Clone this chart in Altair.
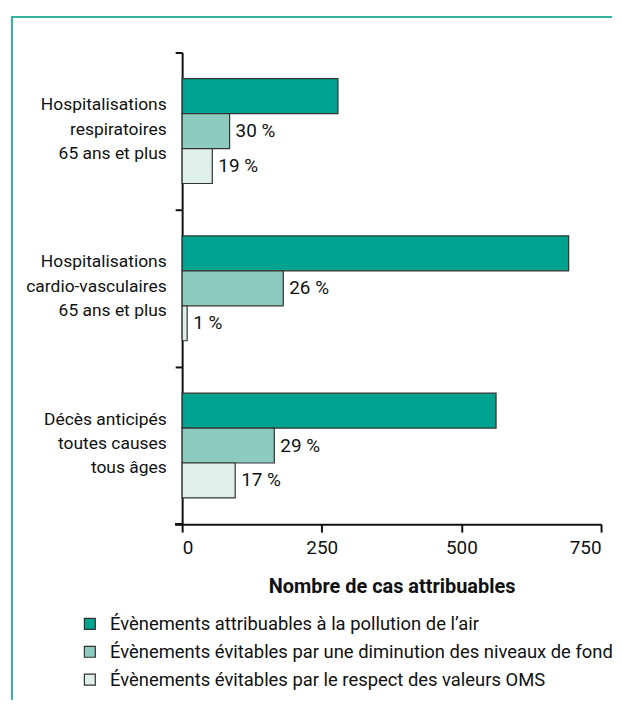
import altair as alt
import pandas as pd

categories = [
    "Hospitalisations|respiratoires|65 ans et plus",
    "Hospitalisations|cardio-vasculaires|65 ans et plus",
    "Décès anticipés|toutes causes|tous âges",
]
series = [
    "Évènements attribuables à la pollution de l’air",
    "Évènements évitables par une diminution des niveaux de fond",
    "Évènements évitables par le respect des valeurs OMS",
]
attribuables = [279, 692, 562]
fond = [85, 181, 165]
oms = [54, 9, 95]
pct_fond = ["30 %", "26 %", "29 %"]
pct_oms = ["19 %", "1 %", "17 %"]
colors = ["#00a38f", "#8ecbbf", "#dff0ea"]
x_ticks = [0, 250, 500, 750]

rows = []
for i, c in enumerate(categories):
    rows.append({"cat": c, "serie": series[0], "value": attribuables[i], "label": ""})
    rows.append({"cat": c, "serie": series[1], "value": fond[i], "label": pct_fond[i]})
    rows.append({"cat": c, "serie": series[2], "value": oms[i], "label": pct_oms[i]})
df = pd.DataFrame(rows)

FONT = "Roboto"
W, H = 421, 474

y_enc = alt.Y("cat:N", sort=categories,
              scale=alt.Scale(paddingInner=0, paddingOuter=0),
              axis=alt.Axis(title=None, bandPosition=0, labelExpr="split(datum.label, '|')",
                            labelFont=FONT, labelFontSize=17.5, labelLineHeight=24.5,
                            labelColor="#111", labelPadding=9, tickSize=7, tickWidth=2,
                            tickColor="#111", domainColor="#111", domainWidth=2,
                            labelBaseline="middle", labelOffset=-26))
yoff = alt.YOffset("serie:N", sort=series,
                   scale=alt.Scale(paddingOuter=0.75, paddingInner=0))
x_enc = alt.X("value:Q",
              scale=alt.Scale(domain=[0, 750], nice=False),
              axis=alt.Axis(values=x_ticks, title="Nombre de cas attribuables", grid=False,
                            labelFont=FONT, labelFontSize=19, labelColor="#111",
                            labelPadding=6, tickSize=8, tickWidth=2, tickColor="#111",
                            domainColor="#111", domainWidth=2,
                            titleFont=FONT, titleFontSize=20, titleFontWeight="bold",
                            titleColor="#111", titlePadding=20))

bars = alt.Chart(df).mark_bar(stroke="#333", strokeWidth=1.2).encode(
    x=x_enc,
    y=y_enc,
    yOffset=yoff,
    color=alt.Color("serie:N", sort=series,
                    scale=alt.Scale(domain=series, range=colors),
                    legend=alt.Legend(title=None, orient="none", legendX=-102, legendY=565,
                                      symbolType="square", symbolSize=121,
                                      symbolStrokeColor="#333", symbolStrokeWidth=1.2,
                                      labelFont=FONT, labelFontSize=18.5, labelColor="#111",
                                      labelLimit=600, rowPadding=9, labelOffset=11)),
)

texts = alt.Chart(df).mark_text(align="left", baseline="middle", dx=6, font=FONT,
                                fontSize=19, color="#111").encode(
    x="value:Q",
    y=alt.Y("cat:N", sort=categories),
    yOffset=alt.YOffset("serie:N", sort=series),
    text="label:N",
)

frame_top = alt.Chart(df).mark_rule(color="#35b5a0", strokeWidth=1.5).encode(
    x=alt.value(-171), x2=alt.value(432), y=alt.value(-36))
frame_left = alt.Chart(df).mark_rule(color="#35b5a0", strokeWidth=1.5).encode(
    x=alt.value(-171), y=alt.value(-36), y2=alt.value(650))
end_tick = alt.Chart(df).mark_rule(color="#111", strokeWidth=2).encode(
    x=alt.value(-7), x2=alt.value(0), y=alt.value(H))

chart = alt.layer(frame_top, frame_left, bars, texts, end_tick).properties(
    width=W, height=H,
    padding={"left": 3, "top": 6, "right": 0, "bottom": 0},
).configure_view(stroke=None)

chart.save("out.html", embed_options={"renderer": "svg", "actions": False})
